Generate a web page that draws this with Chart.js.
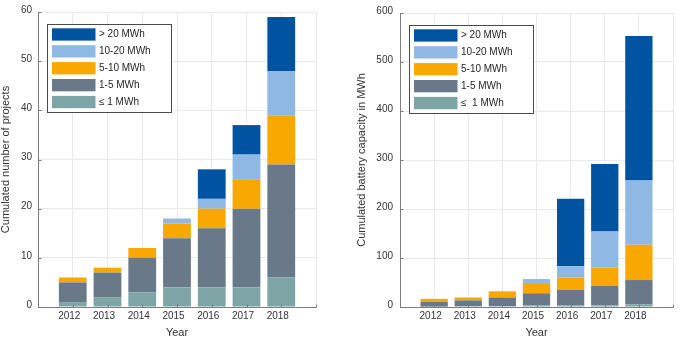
<!DOCTYPE html>
<html>
<head>
<meta charset="utf-8">
<script src="https://cdn.jsdelivr.net/npm/chart.js@4.4.1/dist/chart.umd.min.js"></script>
<style>
  html, body { margin: 0; padding: 0; background: #fff; }
  #wrap { display: flex; width: 678px; height: 338px; }
  canvas { display: block; }
</style>
</head>
<body>
<div id="wrap">
  <canvas id="projects" width="340" height="338"></canvas>
  <canvas id="capacity" width="338" height="338"></canvas>
</div>
<script>
// Years shown on the x axis
const years = [2012, 2013, 2014, 2015, 2016, 2017, 2018];

// Size classes (bottom of stack first)
const classLabelsProjects = ['\u2264 1 MWh', '1-5 MWh', '5-10 MWh', '10-20 MWh', '> 20 MWh'];
const classLabelsCapacity = ['\u2264  1 MWh', '1-5 MWh', '5-10 MWh', '10-20 MWh', '> 20 MWh'];

// Cumulated number of projects per size class
const projUpTo1 = [1, 2, 3, 4, 4, 4, 6];
const proj1to5 = [4, 5, 7, 10, 12, 16, 23];
const proj5to10 = [1, 1, 2, 3, 4, 6, 10];
const proj10to20 = [0, 0, 0, 1, 2, 5, 9];
const projOver20 = [0, 0, 0, 0, 6, 6, 11];

// Cumulated battery capacity (MWh) per size class
const capUpTo1 = [0.7, 1.5, 2, 3, 3, 3, 5];
const cap1to5 = [10, 12, 17.5, 25, 32, 40, 50];
const cap5to10 = [6, 6, 12.5, 19, 25, 38, 72];
const cap10to20 = [0, 0, 0, 10, 23, 73, 131];
const capOver20 = [0, 0, 0, 0, 138, 138, 295];

// Y axis tick ranges
const projTicks = { min: 0, max: 60, step: 10 };
const capTicks = { min: 0, max: 600, step: 100 };

const classColors = ['#7ea5a5', '#6a798a', '#f8a800', '#8fb9e4', '#0053a0'];

Chart.defaults.font.family = '"Liberation Sans", Arial, sans-serif';
Chart.defaults.font.size = 10;
Chart.defaults.color = '#333333';

// Draws the axis lines with inward tick marks and a boxed legend inside the plot
const frameAndLegend = {
  id: 'frameAndLegend',
  afterDatasetsDraw(chart) {
    const { ctx, chartArea: a, scales: { x, y } } = chart;
    ctx.save();
    ctx.strokeStyle = '#7c7c7c';
    ctx.lineWidth = 1;
    ctx.beginPath();
    const lx = Math.round(a.left) + 0.5;
    const by = Math.round(a.bottom) + 0.5;
    ctx.moveTo(lx, Math.round(a.top));
    ctx.lineTo(lx, by);
    ctx.lineTo(Math.round(a.right) + 0.5, by);
    y.ticks.forEach(t => {
      const py = Math.round(y.getPixelForValue(t.value)) + 0.5;
      ctx.moveTo(lx, py);
      ctx.lineTo(lx + 3, py);
    });
    x.ticks.forEach(t => {
      const px = Math.round(x.getPixelForValue(t.value)) + 0.5;
      ctx.moveTo(px, by);
      ctx.lineTo(px, by - 3);
    });
    ctx.stroke();
    ctx.restore();
  },
  afterDraw(chart) {
    const { ctx, chartArea: a } = chart;
    const bx = Math.round(a.left) + 9;
    const bTop = Math.round(a.top) + 12;
    const bw = 124, bh = 88;
    ctx.save();
    ctx.fillStyle = '#ffffff';
    ctx.fillRect(bx, bTop, bw, bh);
    ctx.strokeStyle = '#4a4a4a';
    ctx.lineWidth = 1;
    ctx.strokeRect(bx + 0.5, bTop + 0.5, bw, bh);
    const items = chart.data.datasets.slice().reverse();
    ctx.font = '10px "Liberation Sans", Arial, sans-serif';
    ctx.textBaseline = 'middle';
    ctx.textAlign = 'left';
    items.forEach((ds, i) => {
      const sy = bTop + 4.3 + i * 16.9;
      ctx.fillStyle = ds.backgroundColor;
      ctx.fillRect(bx + 5, sy, 43.5, 12.3);
      ctx.fillStyle = '#262626';
      ctx.fillText(ds.label, bx + 52, sy + 6.4);
    });
    ctx.restore();
  }
};

function makeDatasets(labels, series) {
  return series.map((vals, i) => ({
    label: labels[i],
    data: vals.map((v, j) => ({ x: years[j], y: v })),
    backgroundColor: classColors[i],
    borderWidth: 0,
    barPercentage: 0.8,
    categoryPercentage: 1.0
  }));
}

function makeChart(id, datasets, yTitle, range, yWidth, yTitlePad, rightPad, yTickPad) {
  return new Chart(document.getElementById(id), {
    type: 'bar',
    data: { datasets },
    plugins: [frameAndLegend],
    options: {
      responsive: false,
      animation: false,
      events: [],
      layout: { padding: { top: 6, right: rightPad, bottom: 0, left: 0 } },
      plugins: { legend: { display: false }, tooltip: { enabled: false } },
      scales: {
        x: {
          type: 'linear',
          stacked: true,
          offset: false,
          min: years[0] - 1,
          max: years[years.length - 1] + 1,
          afterFit: s => { s.height = 31; },
          afterBuildTicks: s => {
            const t = [];
            for (let v = years[0] - 1; v <= years[years.length - 1] + 1; v++) t.push({ value: v });
            s.ticks = t;
          },
          grid: { color: '#e9e9e9', drawTicks: false, offset: false },
          border: { display: false },
          ticks: {
            autoSkip: false,
            maxRotation: 0,
            padding: 3,
            labelOffset: -3.5,
            color: '#333333',
            callback: v => (years.includes(v) ? String(v) : '')
          },
          title: {
            display: true,
            text: 'Year',
            color: '#333333',
            font: { size: 11, lineHeight: 0.91 },
            padding: { top: 0, bottom: 0 }
          }
        },
        y: {
          stacked: true,
          min: range.min,
          max: range.max,
          afterFit: s => { s.width = yWidth; },
          grid: { color: '#e9e9e9', drawTicks: false },
          border: { display: false },
          ticks: { stepSize: range.step, padding: yTickPad, labelOffset: -2, color: '#333333' },
          title: {
            display: true,
            text: yTitle,
            color: '#333333',
            font: { size: 11, lineHeight: 1 },
            padding: { top: yTitlePad, bottom: 0 }
          }
        }
      }
    }
  });
}

makeChart('projects',
  makeDatasets(classLabelsProjects, [projUpTo1, proj1to5, proj5to10, proj10to20, projOver20]),
  'Cumulated number of projects', projTicks, 38, 0, 24, 6);

makeChart('capacity',
  makeDatasets(classLabelsCapacity, [capUpTo1, cap1to5, cap5to10, cap10to20, capOver20]),
  'Cumulated battery capacity in MWh', capTicks, 60, 16, 5, 7);
</script>
</body>
</html>
